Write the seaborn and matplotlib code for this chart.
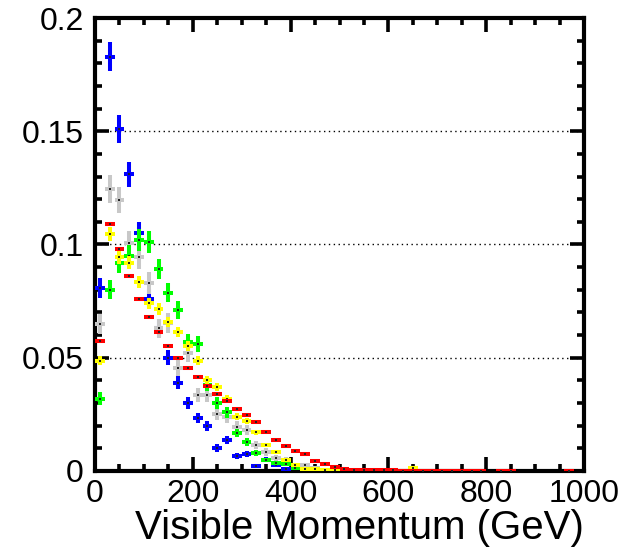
import numpy as np
import pandas as pd
import matplotlib
matplotlib.use("Agg")
import matplotlib.pyplot as plt
import seaborn as sns
from matplotlib.ticker import MultipleLocator, FuncFormatter

# bins of 20 GeV, values start at the first bin (0-20 GeV)
bin_width = 20

blue_vals = [0.081, 0.183, 0.151, 0.131, 0.105, 0.076, 0.063, 0.050, 0.039, 0.030,
             0.0234, 0.0199, 0.0102, 0.0137, 0.0066, 0.0075, 0.0022, 0.0049, 0.0026, 0.0010]
blue_errs = [0.0044, 0.0066, 0.0060, 0.0056, 0.0050, 0.0042, 0.0039, 0.0034, 0.0030, 0.0027,
             0.0024, 0.0022, 0.0016, 0.0018, 0.0013, 0.0013, 0.0007, 0.0011, 0.0008, 0.0005]

gray_vals = [0.065, 0.1245, 0.1196, 0.1007, 0.0945, 0.083, 0.063, 0.0655, 0.0455, 0.052,
             0.0336, 0.0336, 0.025, 0.024, 0.0195, 0.018, 0.0115, 0.0084, 0.0057, 0.005,
             0.0013, 0.0026, 0.0013, 0.0005]
gray_errs = [0.0044, 0.0060, 0.0059, 0.0054, 0.0052, 0.0049, 0.0043, 0.0044, 0.0036, 0.0039,
             0.0031, 0.0031, 0.0027, 0.0026, 0.0024, 0.0023, 0.0018, 0.0016, 0.0013, 0.0012,
             0.0006, 0.0009, 0.0006, 0.0004]

green_vals = [0.032, 0.080, 0.092, 0.095, 0.102, 0.101, 0.0893, 0.0786, 0.071, 0.057,
              0.056, 0.038, 0.030, 0.026, 0.0168, 0.0128, 0.008, 0.0049, 0.0035, 0.003,
              0.0015, 0.0009]
green_errs = [0.0027, 0.0042, 0.0045, 0.0046, 0.0048, 0.0048, 0.0045, 0.0042, 0.0040, 0.0036,
              0.0035, 0.0029, 0.0026, 0.0024, 0.0019, 0.0017, 0.0013, 0.0010, 0.0009, 0.0008,
              0.0006, 0.0005]

yellow_vals = [0.0486, 0.1046, 0.0945, 0.092, 0.0834, 0.074, 0.0715, 0.0658, 0.0614, 0.055,
               0.0486, 0.040, 0.037, 0.032, 0.024, 0.022, 0.017, 0.0115, 0.0084, 0.0049,
               0.0026, 0.001, 0.0008, 0.0005, 0.0004, 0, 0, 0, 0, 0,
               0, 0, 0.0013]
yellow_errs = [0.0020, 0.0030, 0.0029, 0.0028, 0.0027, 0.0025, 0.0025, 0.0024, 0.0023, 0.0022,
               0.0020, 0.0019, 0.0018, 0.0017, 0.0014, 0.0014, 0.0012, 0.0010, 0.0009, 0.0007,
               0.0005, 0.0003, 0.0003, 0.0002, 0.0002, 0, 0, 0, 0, 0,
               0, 0, 0.0003]

red_vals = [0.0574, 0.109, 0.098, 0.086, 0.076, 0.068, 0.0614, 0.055, 0.050, 0.0455,
            0.0415, 0.0375, 0.034, 0.031, 0.0274, 0.0247, 0.0216, 0.017, 0.0135, 0.011,
            0.0088, 0.0075, 0.0044, 0.003, 0.0018, 0.0009, 0.0005, 0.0004, 0.0004, 0.0003,
            0.0003, 0.0002, 0.0002, 0.0002, 0.0002, 0.0002, 0.0002, 0.0002, 0.0002, 0.0002,
            0, 0.0002, 0.0002, 0, 0, 0, 0, 0, 0.0002, 0]

series = [
    ("blue", blue_vals, blue_errs, "#0000ff"),
    ("gray", gray_vals, gray_errs, "#c8c8c8"),
    ("green", green_vals, green_errs, "#00ff00"),
    ("yellow", yellow_vals, yellow_errs, "#ffff00"),
    ("red", red_vals, None, "#ff0000"),
]

sns.set_theme(style="ticks")
plt.rcParams['font.family'] = ['Liberation Sans', 'DejaVu Sans']

fig = plt.figure(figsize=(6.23, 5.6), dpi=100)
ax = fig.add_axes([95 / 623, 1 - 471 / 560, (584 - 95) / 623, (471 - 18) / 560])

for i, (name, vals, errs, col) in enumerate(series):
    df = pd.DataFrame({"y": vals})
    df["x"] = bin_width / 2 + bin_width * df.index
    if errs is not None:
        df["err"] = errs
    df = df[df["y"] > 0]
    ax.errorbar(df["x"], df["y"], xerr=bin_width / 2,
                yerr=df["err"] if errs is not None else None,
                fmt="none", ecolor=col, elinewidth=2.9, capsize=0, zorder=3 + 2 * i)
    sns.scatterplot(data=df, x="x", y="y", ax=ax, color="#222222", s=1.5,
                    linewidth=0, marker="s", zorder=4 + 2 * i, legend=False)

ax.set_xlim(0, 1000)
ax.set_ylim(0, 0.2)

ax.xaxis.set_major_locator(MultipleLocator(200))
ax.xaxis.set_minor_locator(MultipleLocator(50))
ax.yaxis.set_major_locator(MultipleLocator(0.05))
ax.yaxis.set_minor_locator(MultipleLocator(0.01))
ax.yaxis.set_major_formatter(FuncFormatter(lambda v, p: f"{v:g}"))

ax.tick_params(which="both", direction="in", top=True, right=True, width=2.6,
               color="black", labelsize=23, labelcolor="black")
ax.tick_params(which="major", length=10)
ax.tick_params(which="minor", length=5)
ax.tick_params(axis="x", which="major", pad=6)
ax.tick_params(axis="y", which="major", pad=8)

for s in ax.spines.values():
    s.set_linewidth(3)
    s.set_color("black")

ax.yaxis.grid(True, which="major", linestyle=(0, (1, 2.5)), color="black", linewidth=1)
ax.set_axisbelow(True)

ax.set_ylabel("")
ax.set_xlabel("Visible Momentum (GeV)", fontsize=29, loc="right", labelpad=0, color="black")

fig.savefig("out.png", dpi=100)
